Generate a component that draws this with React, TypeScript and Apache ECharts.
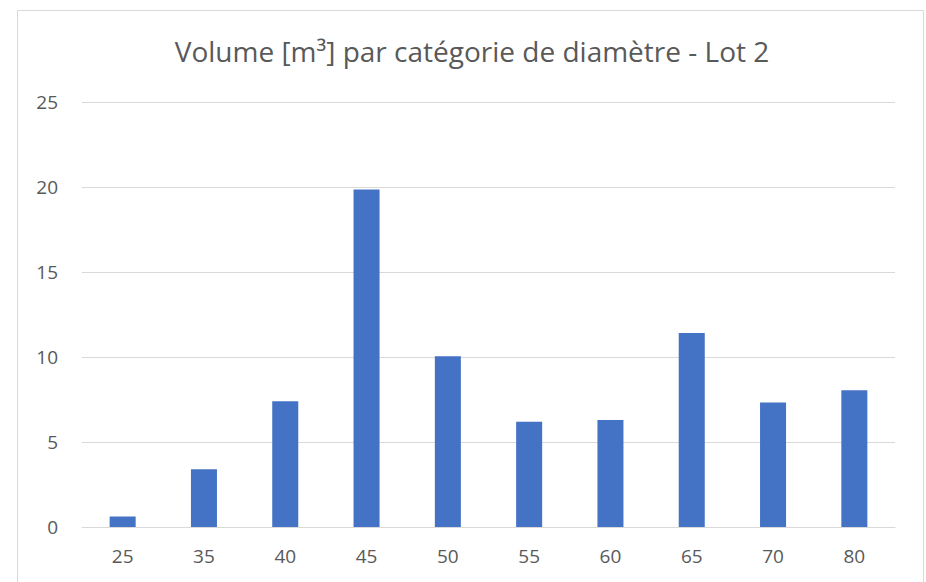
import React, { useEffect, useRef } from "react";
import * as echarts from "echarts";

const TITLE = "Volume [m³] par catégorie de diamètre - Lot 2";
const categories = ["25", "35", "40", "45", "50", "55", "60", "65", "70", "80"];
const volumes = [0.62, 3.39, 7.39, 19.86, 10.05, 6.19, 6.29, 11.41, 7.32, 8.04];
const yMin = 0;
const yMax = 25;
const yStep = 5;

export default function App() {
  const ref = useRef<HTMLDivElement>(null);
  useEffect(() => {
    if (!ref.current) return;
    const chart = echarts.init(ref.current, undefined, { renderer: "svg" });
    const font = "'Open Sans', 'Liberation Sans', sans-serif";
    chart.setOption({
      animation: false,
      backgroundColor: "#ffffff",
      title: {
        text: TITLE,
        left: 467,
        top: 32,
        textAlign: "center",
        textStyle: { fontFamily: font, fontSize: 28, fontWeight: "normal", color: "#595959" },
      },
      graphic: [
        {
          type: "rect",
          shape: { x: 17.5, y: 10.5, width: 906, height: 620 },
          style: { fill: "none", stroke: "#d9d9d9", lineWidth: 1 },
          silent: true,
        },
      ],
      grid: { left: 82, right: 31, top: 102, bottom: 55 },
      xAxis: {
        type: "category",
        data: categories,
        axisLine: { show: true, lineStyle: { color: "#d9d9d9", width: 1 } },
        axisTick: { show: false },
        axisLabel: { fontFamily: font, fontSize: 19, color: "#595959", margin: 19 },
      },
      yAxis: {
        type: "value",
        min: yMin,
        max: yMax,
        interval: yStep,
        axisLine: { show: false },
        axisTick: { show: false },
        splitLine: { lineStyle: { color: "#d9d9d9", width: 1 } },
        axisLabel: { fontFamily: font, fontSize: 19, color: "#595959", margin: 24 },
      },
      series: [
        {
          type: "bar",
          data: volumes,
          barWidth: "32%",
          itemStyle: { color: "#4472C4" },
        },
      ],
    });
    return () => chart.dispose();
  }, []);
  return (
    <div
      ref={ref}
      style={{ position: "fixed", left: 0, top: 0, width: 926, height: 582 }}
    />
  );
}
